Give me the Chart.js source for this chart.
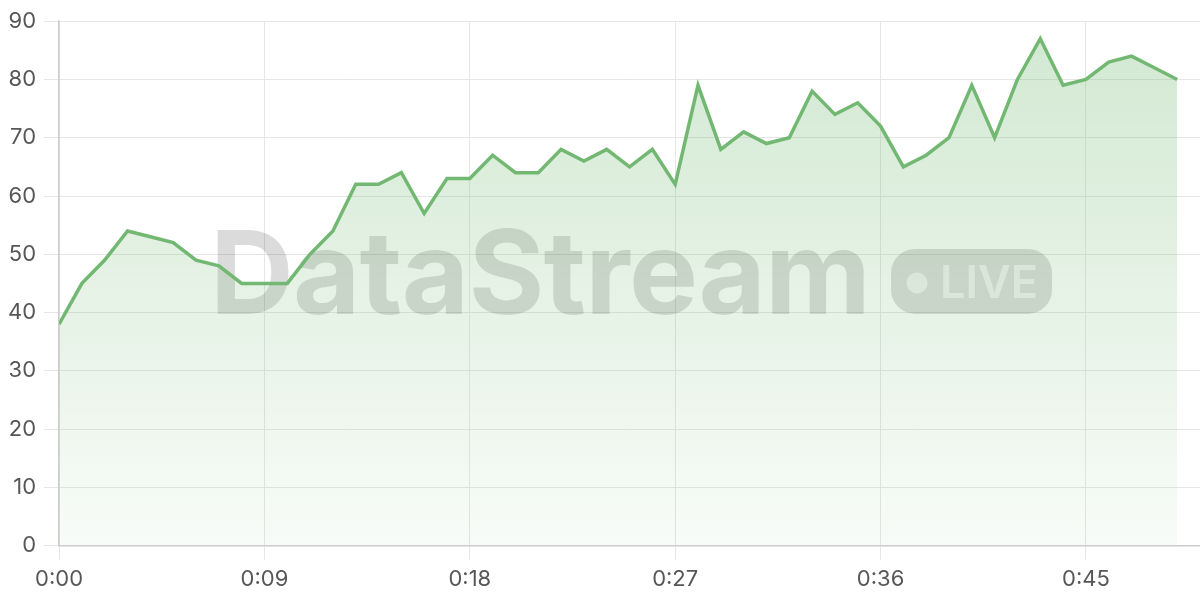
<!DOCTYPE html>
<html>
<head>
<meta charset="utf-8">
<script src="https://cdn.jsdelivr.net/npm/chart.js@4.4.1/dist/chart.umd.min.js"></script>
<style>
  html, body { margin: 0; padding: 0; background: #fff; }
  .chart-container { width: 1200px; height: 600px; position: relative; }
</style>
</head>
<body>
<div class="chart-container"><canvas id="streamChart"></canvas></div>
<script>
// one reading per tick of the stream
const timeIdx = Array.from({ length: 50 }, (_, i) => i);
const values = [
  38, 45, 49, 54, 53, 52, 49, 48, 45, 45,
  45, 50, 54, 62, 62, 64, 57, 63, 63, 67,
  64, 64, 68, 66, 68, 65, 68, 62, 79, 68,
  71, 69, 70, 78, 74, 76, 72, 65, 67, 70,
  79, 70, 80, 87, 79, 80, 83, 84, 82, 80
];
const xTickLabels = ['0:00', '0:09', '0:18', '0:27', '0:36', '0:45'];
const xStep = 9;

const lineColor = '#72b872';
const gridColor = '#e6e6e6';
const borderColor = '#cccccc';

Chart.defaults.font.family = 'Inter, "Noto Sans", sans-serif';
Chart.defaults.font.size = 22;
Chart.defaults.color = '#575757';

// big faded "DataStream LIVE" mark in the middle of the plot
const watermark = {
  id: 'watermark',
  beforeDatasetsDraw(chart) {
    const { ctx, chartArea } = chart;
    const cx = (chartArea.left + chartArea.right) / 2;
    const cy = (chartArea.top + chartArea.bottom) / 2;
    ctx.save();
    ctx.fillStyle = 'rgba(0,0,0,0.14)';
    ctx.font = '700 116px Inter, sans-serif';
    const w = ctx.measureText('DataStream').width;
    ctx.letterSpacing = ((660 - w) / 10) + 'px';
    ctx.textBaseline = 'alphabetic';
    ctx.fillText('DataStream', cx - 419.5, cy + 30.5);

    ctx.letterSpacing = '0px';
    ctx.beginPath();
    ctx.roundRect(cx + 261.5, cy - 34.5, 161, 65, 24);
    ctx.fill();

    ctx.fillStyle = 'rgba(255,255,255,0.6)';
    ctx.beginPath();
    ctx.arc(cx + 287.5, cy - 0.5, 10.5, 0, Math.PI * 2);
    ctx.fill();
    ctx.font = '600 45px Inter, sans-serif';
    ctx.fillText('LIVE', cx + 310.5, cy + 14.5);
    ctx.restore();
  }
};

const fillGradient = (context) => {
  const { chart } = context;
  const area = chart.chartArea;
  if (!area) return 'rgba(114,184,114,0.2)';
  const g = chart.ctx.createLinearGradient(0, area.top, 0, area.bottom);
  g.addColorStop(0, 'rgba(114,184,114,0.32)');
  g.addColorStop(1, 'rgba(114,184,114,0.05)');
  return g;
};

new Chart(document.getElementById('streamChart'), {
  type: 'line',
  data: {
    datasets: [{
      data: values.map((v, i) => ({ x: timeIdx[i], y: v })),
      borderColor: lineColor,
      borderWidth: 3.5,
      backgroundColor: fillGradient,
      fill: 'origin',
      pointRadius: 0,
      tension: 0
    }]
  },
  options: {
    responsive: true,
    maintainAspectRatio: false,
    animation: false,
    layout: { padding: { left: 0, top: 6, right: 0, bottom: 0 } },
    plugins: {
      legend: { display: false },
      tooltip: { enabled: false }
    },
    scales: {
      x: {
        type: 'linear',
        min: 0,
        max: 50,
        grid: { color: gridColor, tickLength: 14 },
        border: { color: borderColor, width: 1.5 },
        ticks: {
          stepSize: xStep,
          includeBounds: false,
          padding: 7,
          maxRotation: 0,
          callback: (v) => xTickLabels[v / xStep]
        }
      },
      y: {
        min: 0,
        max: 90,
        grid: { color: gridColor, tickLength: 15 },
        border: { color: borderColor, width: 1.5 },
        ticks: { stepSize: 10, padding: 8 }
      }
    }
  },
  plugins: [watermark]
});
</script>
</body>
</html>
